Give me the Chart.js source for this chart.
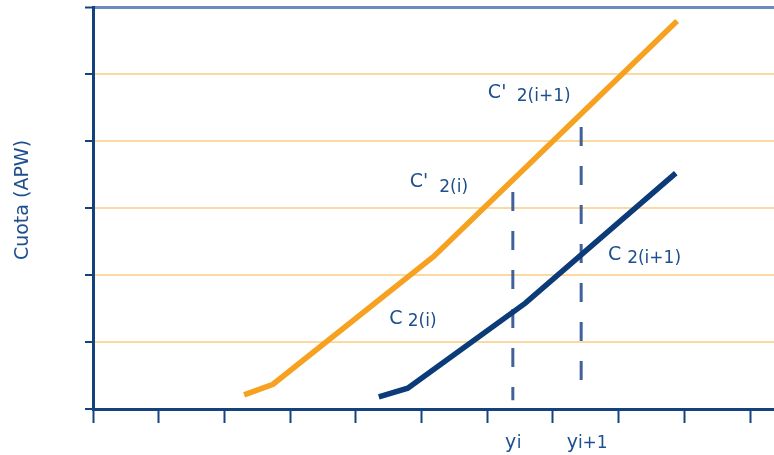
<!DOCTYPE html>
<html>
<head>
<meta charset="utf-8">
<script src="https://cdn.jsdelivr.net/npm/chart.js@4"></script>
<style>
  html, body { margin: 0; padding: 0; background: #fff; }
  #wrap { width: 774px; height: 455px; }
</style>
</head>
<body>
<div id="wrap"><canvas id="graf" width="774" height="455"></canvas></div>
<script>
// ------- data (units of the x and y grid) -------------------------------
const X_TICKS = [0, 1, 2, 3, 4, 5, 6, 7, 8, 9, 10];
const Y_TICKS = [0, 1, 2, 3, 4, 5, 6];

// C'2 curve (orange) and C2 curve (blue)
const C2P_X = [2.30, 2.74, 5.19, 8.89];
const C2P_Y = [0.21, 0.37, 2.28, 5.79];
const C2_X  = [4.35, 4.79, 6.58, 8.87];
const C2_Y  = [0.18, 0.31, 1.58, 3.52];

// dashed markers y_i and y_i+1 : x, top, bottom
const YI_X   = [6.39, 7.43];
const YI_TOP = [3.24, 4.21];
const YI_BOT = [0.13, 0.40];

// labels: main letter + lowered index, placed in data units
const POPISKY = [
  { hlavni: "C'", sub: "2(i+1)", x: 6.01, y: 4.64, xs: 6.45, ys: 4.60 },
  { hlavni: "C'", sub: "2(i)",   x: 4.82, y: 3.31, xs: 5.27, ys: 3.24 },
  { hlavni: "C",  sub: "2(i)",   x: 4.51, y: 1.27, xs: 4.79, ys: 1.24 },
  { hlavni: "C",  sub: "2(i+1)", x: 7.84, y: 2.22, xs: 8.13, ys: 2.18 },
  { hlavni: "y",  sub: "i",      x: 6.27, y: -0.58, xs: 6.45, ys: -0.58 },
  { hlavni: "y",  sub: "i+1",    x: 7.21, y: -0.58, xs: 7.38, ys: -0.58 },
];
const OSA_Y = "Cuota (APW)";

// barvy
const MODRA = "#14427f";
const TEXT = "#1e4f8e";
const ORANZ = "#f6a11f";
const CARA_MODRA = "#0b3b78";
const MRIZKA = "#fdd9a2";
const FONT = "'DejaVu Sans', sans-serif";

const body = (xs, ys) => xs.map((x, i) => ({ x, y: ys[i] }));

// ------- popisky ---------------------------------------------------------
const popiskyPlugin = {
  id: "popisky",
  afterDraw(chart) {
    const { ctx, scales: { x, y } } = chart;
    ctx.save();
    ctx.fillStyle = TEXT;
    ctx.textAlign = "left";
    ctx.textBaseline = "alphabetic";
    POPISKY.forEach(p => {
      ctx.font = "19px " + FONT;
      ctx.fillText(p.hlavni, x.getPixelForValue(p.x), y.getPixelForValue(p.y));
      ctx.font = "17px " + FONT;
      ctx.fillText(p.sub, x.getPixelForValue(p.xs), y.getPixelForValue(p.ys));
    });
    // nadpis osy Y
    ctx.translate(28, 200);
    ctx.rotate(-Math.PI / 2);
    ctx.textAlign = "center";
    ctx.font = "19px " + FONT;
    ctx.fillText(OSA_Y, 0, 0);
    ctx.restore();
  },
};

new Chart(document.getElementById("graf"), {
  type: "line",
  data: {
    datasets: [
      { data: body(C2P_X, C2P_Y), borderColor: ORANZ, borderWidth: 5.5 },
      { data: body(C2_X, C2_Y), borderColor: CARA_MODRA, borderWidth: 5.5 },
      ...YI_X.map((xv, i) => ({
        data: [{ x: xv, y: YI_TOP[i] }, { x: xv, y: YI_BOT[i] }],
        borderColor: "#41619a", borderWidth: 3, borderDash: [19, 20],
      })),
    ],
  },
  options: {
    responsive: false,
    animation: false,
    devicePixelRatio: 1,
    layout: { padding: { top: 7, right: 0, left: 0, bottom: 0 } },
    elements: { point: { radius: 0 }, line: { tension: 0 } },
    plugins: { legend: { display: false }, tooltip: { enabled: false } },
    scales: {
      x: {
        type: "linear", min: 0, max: 10.365,
        afterBuildTicks: s => { s.ticks = X_TICKS.map(v => ({ value: v })); },
        afterFit: s => { s.height = 46; },
        ticks: { display: false, includeBounds: false },
        grid: { drawOnChartArea: false, drawTicks: true, tickLength: 14,
                tickColor: MODRA, tickWidth: 2 },
        border: { display: true, color: MODRA, width: 3 },
      },
      y: {
        type: "linear", min: 0, max: 6,
        afterBuildTicks: s => { s.ticks = Y_TICKS.map(v => ({ value: v })); },
        afterFit: s => { s.width = 93; },
        ticks: { display: false },
        grid: {
          color: c => c.tick.value === 6 ? "#6a8bbb" : (c.tick.value === 0 ? "rgba(0,0,0,0)" : MRIZKA),
          lineWidth: c => c.tick.value === 6 ? 3 : 2,
          tickLength: 8, tickColor: MODRA, tickWidth: 2,
        },
        border: { display: true, color: MODRA, width: 3 },
      },
    },
  },
  plugins: [popiskyPlugin],
});
</script>
</body>
</html>
